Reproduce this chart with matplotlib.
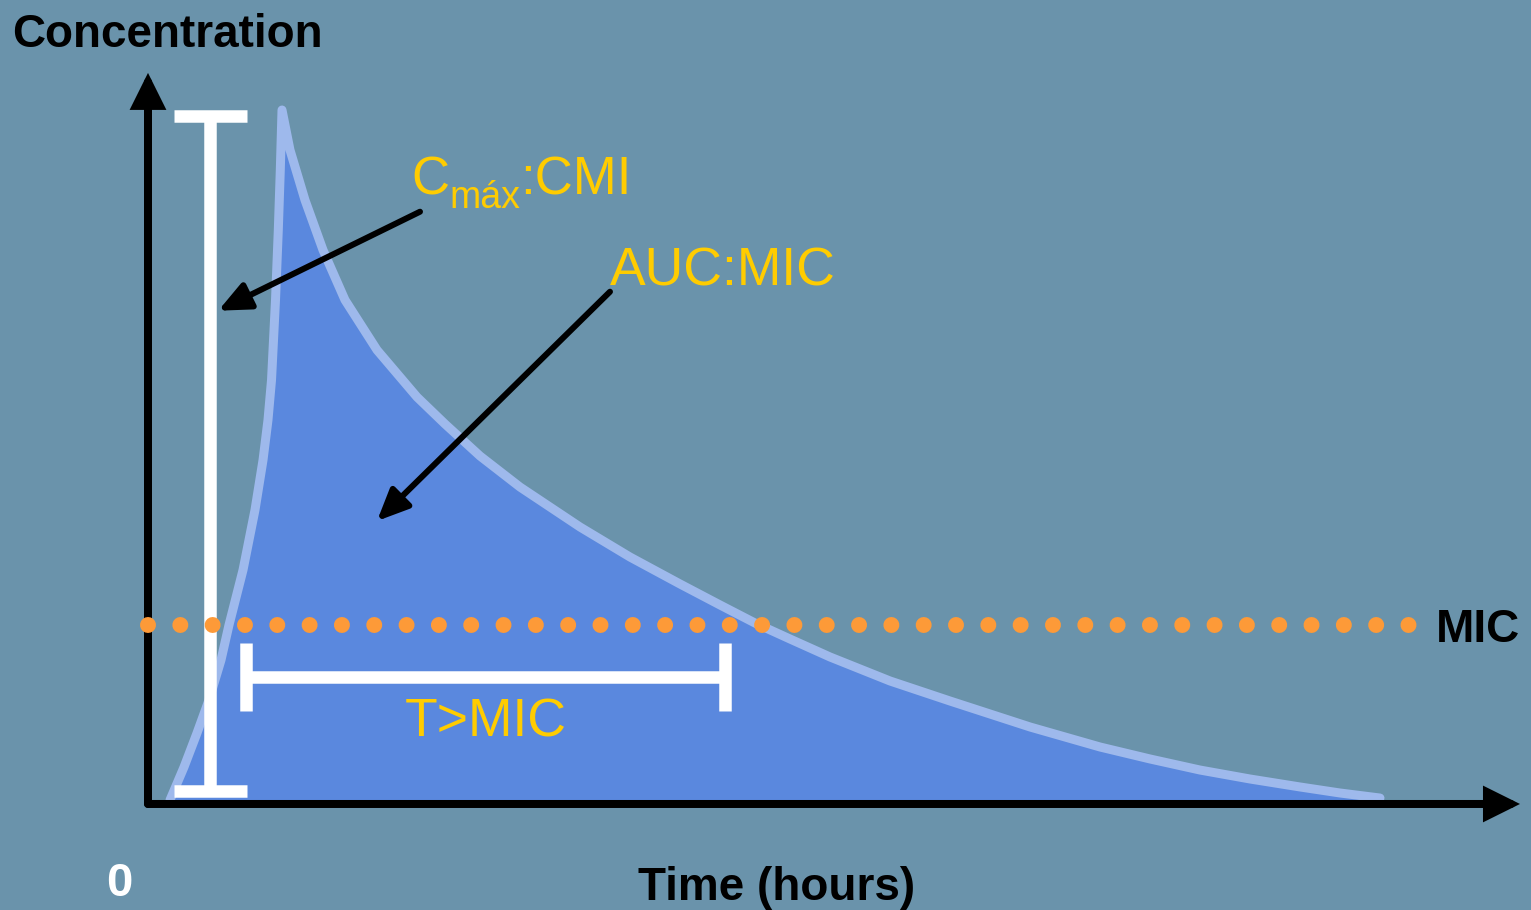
import matplotlib
matplotlib.use("Agg")
import matplotlib.pyplot as plt

# Plasma concentration–time profile after a single dose
time_h = [0.386, 0.632, 0.860, 1.070, 1.281, 1.421, 1.667, 1.877, 2.018, 2.105,
          2.167, 2.237, 2.286, 2.321, 2.351,
          2.491, 2.754, 3.070, 3.456, 4.018, 4.719, 5.211, 5.825, 6.526, 7.579,
          8.456, 9.333, 10.035, 10.649, 11.263, 11.965, 13.018, 14.070, 15.474,
          16.702, 17.579, 18.456, 19.333, 20.211, 20.912, 21.614]
conc = [0.43, 5.14, 10.0, 14.71, 20.43, 25.43, 33.29, 41.86, 49.0, 54.71,
        60.43, 71.86, 81.86, 90.43, 99.0,
        93.29, 86.14, 79.0, 71.86, 64.71, 58.0, 54.14, 49.57, 45.14, 39.43,
        35.14, 31.29, 28.29, 25.71, 23.43, 20.86, 17.43, 14.57, 10.86,
        8.0, 6.29, 4.71, 3.43, 2.29, 1.43, 0.71]

mic = 25.4                     # minimum inhibitory concentration
cmax_time = 1.09               # where the Cmax range bar is drawn
cmax_range = (1.7, 98.1)       # Cmax bar span
t_above_mic = (1.72, 10.13)    # T>MIC bracket span
t_above_mic_level = 18.0

BG = "#6A93AB"
FILL = "#5A88DE"
CURVE = "#9EB9EC"
DOTS = "#FD9A38"
YELLOW = "#FFCC00"

PX = 72 / 100  # pixel -> point at dpi 100

fig = plt.figure(figsize=(15.31, 9.10), dpi=100, facecolor=BG)
ax = fig.add_axes([0, 0, 1, 1])
ax.set_facecolor(BG)
ax.set_xlim(-148 / 57, (1531 - 148) / 57)
ax.set_ylim(-(910 - 803) / 7, 803 / 7)
ax.set_axis_off()

# area under the curve and the curve itself
ax.fill_between(time_h, conc, 0, color=FILL, lw=0, zorder=1)
ax.plot(time_h, conc, color=CURVE, lw=9 * PX, solid_capstyle="round",
        solid_joinstyle="round", zorder=2)

# Cmax range bar
bar_w = 12.5 * PX
cap_half = 0.64
ax.plot([cmax_time, cmax_time], cmax_range, color="white", lw=bar_w,
        solid_capstyle="butt", zorder=5)
for yv in cmax_range:
    ax.plot([cmax_time - cap_half, cmax_time + cap_half], [yv, yv],
            color="white", lw=bar_w, solid_capstyle="butt", zorder=5)

# T>MIC bracket
ax.plot(t_above_mic, [t_above_mic_level] * 2, color="white", lw=bar_w,
        solid_capstyle="butt", zorder=5)
for xv in t_above_mic:
    ax.plot([xv, xv], [t_above_mic_level - 4.86, t_above_mic_level + 4.86],
            color="white", lw=bar_w, solid_capstyle="butt", zorder=5)

# axes drawn as arrows
axis_arrow = dict(arrowstyle="-|>,head_length=1.73,head_width=0.86",
                  color="black", lw=8 * PX, shrinkA=0, shrinkB=0,
                  mutation_scale=10, joinstyle="miter", capstyle="round")
ax.annotate("", xy=(0, 104.3), xytext=(0, -0.14), arrowprops=axis_arrow,
            zorder=6)
ax.annotate("", xy=(24.07, -0.14), xytext=(0, -0.14),
            arrowprops=axis_arrow, zorder=6)

# MIC level as a row of round dots
ax.plot([0, 22.15], [mic, mic], color=DOTS, lw=16 * PX,
        linestyle=(0, (0.001, 2.019)), dash_capstyle="round", zorder=8)

# pointer arrows
pointer = dict(arrowstyle="-|>,head_length=1.9,head_width=0.85",
               color="black", lw=6 * PX, shrinkA=0, shrinkB=0,
               mutation_scale=10)
ax.annotate("", xy=(1.233, 70.33), xytext=(4.772, 84.47),
            arrowprops=pointer, zorder=7)
ax.annotate("", xy=(4.018, 40.29), xytext=(8.105, 73.04),
            arrowprops=pointer, zorder=7)

# labels
bold = dict(family=["Liberation Sans", "DejaVu Sans"], weight="bold")
regular = dict(family=["Liberation Sans", "DejaVu Sans"])

ax.text(-2.386, 108.0, "Concentration", fontsize=33, color="black",
        ha="left", va="baseline", **bold)
ax.text(11.02, -13.86, "Time (hours)", fontsize=33, color="black",
        ha="center", va="baseline", **bold)
ax.text(-0.509, -13.29, "0", fontsize=34, color="white",
        ha="center", va="baseline", **bold)
ax.text(23.33, 23.0, "MIC", fontsize=33, color="black",
        ha="center", va="baseline", **bold)

c_base = 86.86
c_txt = ax.text(4.614, c_base, "C", fontsize=38, color=YELLOW,
                ha="left", va="baseline", **regular)
sub = ax.annotate("máx", xy=(1, c_base), xycoords=(c_txt, "data"),
                  xytext=(0, -13 * PX), textcoords="offset points",
                  fontsize=27, color=YELLOW, ha="left", va="baseline",
                  **regular)
ax.annotate(":CMI", xy=(1, c_base), xycoords=(sub, "data"),
            fontsize=38, color=YELLOW, ha="left", va="baseline", **regular)

ax.text(8.105, 73.86, "AUC:MIC", fontsize=38.5, color=YELLOW,
        ha="left", va="baseline", **regular)
ax.text(4.509, 9.57, "T>MIC", fontsize=38.5, color=YELLOW,
        ha="left", va="baseline", **regular)

fig.savefig("out.png", dpi=100, facecolor=BG)
